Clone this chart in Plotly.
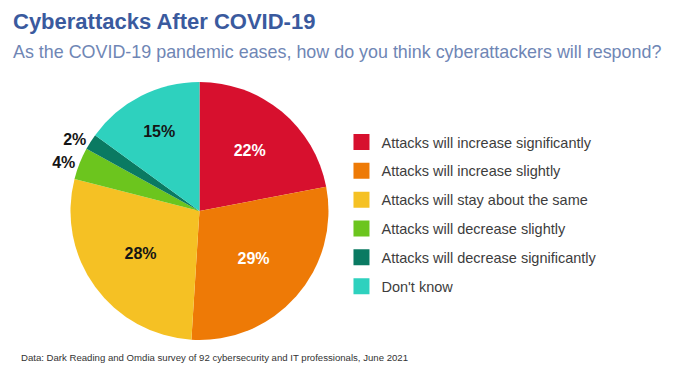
import plotly.graph_objects as go

categories = [
    "Attacks will increase significantly",
    "Attacks will increase slightly",
    "Attacks will stay about the same",
    "Attacks will decrease slightly",
    "Attacks will decrease significantly",
    "Don't know",
]
values = [22, 29, 28, 4, 2, 15]
colors = ["#D7102E", "#EE7A06", "#F5C124", "#6CC51E", "#0A7A62", "#2ED1BE"]
text_colors = ["white", "white", "#151515", "#151515", "#151515", "#151515"]
text_pos = ["inside", "inside", "inside", "outside", "outside", "inside"]

title = "Cyberattacks After COVID-19"
subtitle = "As the COVID-19 pandemic eases, how do you think cyberattackers will respond?"
source = "Data: Dark Reading and Omdia survey of 92 cybersecurity and IT professionals, June 2021"

FONT = "Liberation Sans, Arial, Helvetica, sans-serif"

fig = go.Figure()
fig.add_trace(go.Pie(
    labels=categories,
    values=values,
    sort=False,
    direction="clockwise",
    rotation=0,
    marker=dict(colors=colors, line=dict(width=0)),
    texttemplate="<b>%{value}%</b>",
    textposition=text_pos,
    insidetextorientation="horizontal",
    textfont=dict(color=text_colors, size=16, family=FONT),
    outsidetextfont=dict(color="#151515", size=16, family=FONT),
    domain=dict(x=[0.0905, 0.4645], y=[0.1377, 0.8078]),
    showlegend=False,
    hoverinfo="label+percent",
))

for name, col in zip(categories, colors):
    fig.add_trace(go.Scatter(
        x=[None], y=[None], mode="markers", name=name, legendgroup=name,
        marker=dict(symbol="square", size=18, color=col),
        showlegend=True, hoverinfo="skip",
    ))

fig.update_layout(
    width=690, height=385,
    margin=dict(l=0, r=0, t=0, b=0, autoexpand=False),
    paper_bgcolor="white", plot_bgcolor="white",
    xaxis=dict(visible=False), yaxis=dict(visible=False),
    legend=dict(
        x=0.4833, y=0.6934, xanchor="left", yanchor="top",
        font=dict(size=14.5, color="#3d3d3d", family=FONT),
        tracegroupgap=7, itemsizing="trace", bgcolor="rgba(0,0,0,0)",
    ),
    annotations=[
        dict(text="<b>" + title + "</b>", x=3/690, y=1-13/385, xref="paper", yref="paper",
             xanchor="left", yanchor="middle", showarrow=False,
             font=dict(size=22, color="#3A5A9E", family=FONT)),
        dict(text=subtitle, x=3/690, y=1-44/385, xref="paper", yref="paper",
             xanchor="left", yanchor="middle", showarrow=False,
             font=dict(size=17.9, color="#6F86B5", family=FONT)),
        dict(text=source, x=11/690, y=1-349/385, xref="paper", yref="paper",
             xanchor="left", yanchor="middle", showarrow=False,
             font=dict(size=9.6, color="#333333", family=FONT)),
    ],
)

fig.write_html("out.html")
